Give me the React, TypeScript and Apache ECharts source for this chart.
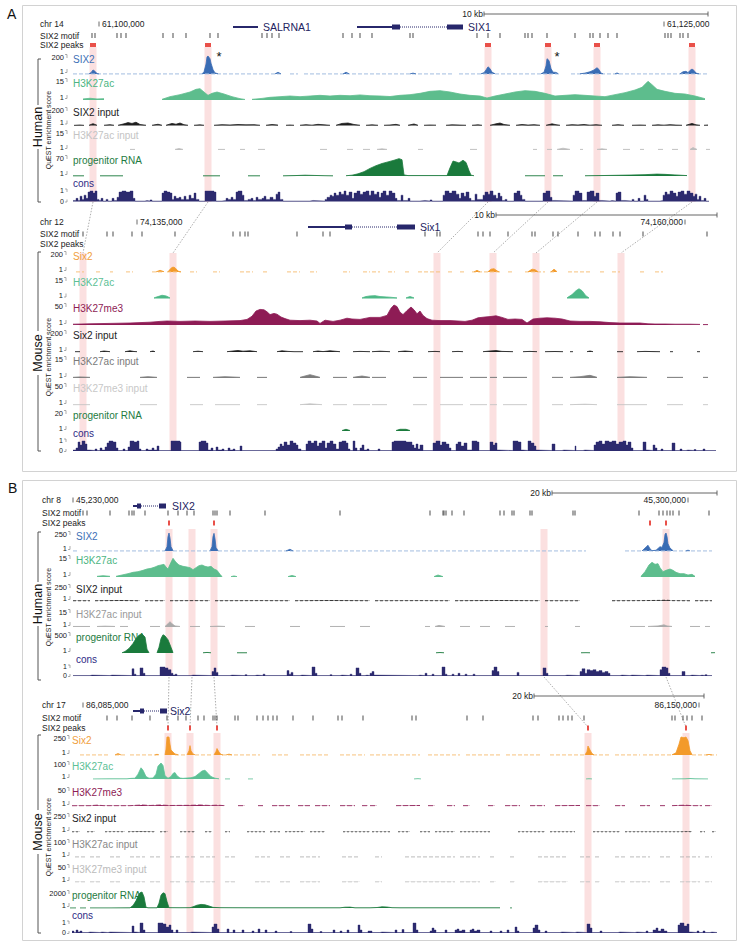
import React, { useEffect, useRef } from 'react';
import * as echarts from 'echarts';

type P = [number, number] | null;

// ================= PANEL A · HUMAN (chr14) =================
const hA_motifs = [92, 95, 117, 121, 126, 163, 173, 186, 210, 218, 262, 267, 272, 279, 343, 352, 360, 372, 410, 413, 477, 488, 500, 525, 528, 532, 547, 575, 590, 593, 600, 608, 617, 665, 668, 671, 680, 683, 688];
const hA_peaks = [93, 208, 488, 548, 597, 692];
const hA_hl = [93, 208, 488, 548, 597, 692];
const hA_coords: [number, string, string][] = [[99, '61,100,000', 'R'], [664, '61,125,000', 'R']];
const hA_scale: [number, number, string] = [484, 708, '10 kb'];
const hA_genes = [[233, 258, 0], [357, 392, 0], [392, 400, 1], [400, 447, 2], [447, 463, 1]];
const hA_geneNames: [number, string][] = [[263, 'SALRNA1'], [468, 'SIX1']];

const hA_six2Base = [[73, 283], [290, 298], [304, 452], [459, 561], [571, 708]];
const hA_six2: P[] = [[89, 1], [91, 15], [93, 45], [95, 30], [97, 5], [99, 1], null, [202, 1], [204, 25], [206, 110], [207, 190], [208, 200], [210, 170], [211, 120], [213, 50], [215, 12], [218, 3], null, [275, 1], [278, 20], [281, 1], null, [343, 1], [346, 20], [349, 3], null, [410, 1], [413, 10], [416, 1], null, [481, 2], [484, 15], [486, 45], [488, 80], [490, 60], [492, 20], [495, 3], null, [541, 2], [544, 20], [546, 90], [547, 170], [549, 150], [551, 60], [553, 20], [556, 18], [558, 5], null, [580, 2], [585, 10], [590, 25], [594, 45], [597, 70], [599, 50], [601, 10], [603, 2], null, [615, 1], [617, 12], [619, 1], null, [680, 2], [683, 25], [686, 30], [688, 15], [690, 40], [692, 55], [694, 40], [696, 10], [699, 2]];
const hA_k27ac: P[] = [[83, 0.8], [90, 1.3], [97, 0.8], [104, 1], null, [162, 0.5], [170, 2.5], [180, 4], [190, 6], [196, 8], [200, 8.5], [204, 6], [208, 3.5], [212, 5], [217, 6], [224, 4.5], [232, 2.5], [240, 1], [245, 0.4], null, [252, 0.5], [262, 1.2], [270, 2], [280, 2.5], [290, 3], [300, 2.5], [310, 3], [320, 3.5], [330, 3], [340, 3.5], [350, 3.2], [360, 3.8], [370, 3.2], [380, 3], [390, 2.6], [400, 3.5], [410, 4], [420, 5], [430, 6.5], [440, 7], [450, 6], [460, 4.5], [470, 3.5], [480, 3], [487, 1.5], [495, 3], [505, 4.5], [515, 6], [525, 7], [535, 6.5], [545, 5], [555, 3], [565, 3.5], [575, 4], [585, 3.5], [595, 3], [605, 2.5], [615, 4], [625, 5.5], [635, 7.5], [642, 9.5], [648, 14], [652, 11.5], [657, 8], [665, 6.5], [675, 5], [685, 4.5], [695, 3], [705, 1]];
const hA_six2in: P[] = [[74, 2], [80, 6], [84, 2], null, [89, 3], [93, 22], [97, 3], null, [104, 3], [110, 10], [114, 3], null, [118, 3], [124, 20], [128, 35], [132, 25], [136, 40], [140, 12], [146, 3], null, [152, 3], [158, 15], [162, 3], null, [166, 3], [172, 25], [176, 15], [180, 30], [184, 10], [188, 3], null, [194, 3], [200, 8], [204, 3], null, [214, 3], [222, 10], [230, 6], [238, 12], [246, 8], [254, 10], [260, 3], null, [266, 3], [272, 12], [278, 5], null, [286, 3], [290, 6], [294, 3], null, [300, 3], [306, 10], [312, 4], [318, 14], [324, 8], [330, 3], null, [336, 3], [342, 25], [348, 30], [354, 12], [360, 3], null, [366, 3], [372, 8], [378, 3], null, [384, 3], [390, 6], [396, 14], [400, 3], null, [408, 3], [414, 18], [418, 3], null, [424, 3], [430, 6], [436, 4], null, [446, 3], [452, 8], [460, 5], [466, 3], null, [472, 3], [478, 8], [482, 3], null, [490, 3], [496, 20], [500, 30], [504, 12], [510, 3], null, [516, 3], [522, 12], [528, 5], [534, 10], [540, 3], null, [546, 3], [552, 20], [556, 10], [560, 3], null, [566, 3], [572, 10], [578, 6], [584, 12], [590, 4], [596, 10], [602, 3], null, [612, 3], [618, 10], [624, 3], null, [632, 3], [640, 6], [646, 3], null, [652, 3], [658, 8], [664, 4], [670, 10], [676, 5], [682, 3], null, [686, 3], [692, 25], [696, 8], [700, 3], null, [704, 3], [708, 6]];
const hA_k27acIn: P[] = [[130, 0.5], [135, 0.5], null, [175, 0.5], [179, 1.2], [183, 0.5], null, [218, 0.5], [225, 0.5], null, [240, 0.5], [245, 0.5], null, [258, 0.5], [265, 0.5], null, [320, 0.5], [327, 0.5], null, [347, 0.5], [353, 0.5], null, [363, 0.5], [370, 0.5], null, [377, 0.5], [382, 1], [387, 0.5], null, [418, 0.5], [423, 0.5], null, [470, 0.5], [477, 0.5], null, [533, 0.5], [537, 0.5], null, [547, 0.5], [552, 0.5], null, [557, 0.5], [563, 1.5], [570, 0.5], null, [580, 0.5], [583, 0.5], null, [597, 0.5], [602, 1], [607, 0.5], null, [623, 0.5], [630, 0.5], null, [640, 0.5], [644, 0.5], null, [658, 0.5], [663, 0.5], null, [672, 0.5], [678, 0.5], null, [690, 0.5], [693, 2], [697, 0.5], null, [706, 0.5], [710, 0.5]];
const hA_rna: P[] = [[73, 0.5], [84, 0.5], null, [100, 0.5], [123, 0.5], null, [203, 0.5], [220, 0.5], null, [248, 0.5], [260, 0.5], null, [283, 0.5], [295, 1.5], [305, 3], [315, 2], [325, 1], [333, 0.5], null, [346, 1], [352, 3], [358, 8], [364, 16], [370, 28], [376, 38], [382, 46], [388, 52], [394, 58], [399, 64], [402, 60], [404, 4], [408, 1.5], [420, 1.5], [435, 1.5], [447, 1.5], [450, 30], [453, 55], [456, 52], [459, 48], [463, 58], [466, 50], [469, 20], [471, 3], [474, 1], null, [525, 0.8], [545, 0.8], null, [553, 0.8], [563, 0.8], null, [585, 0.8], [600, 1.5], [615, 2.5], [630, 3.5], [645, 5], [657, 7], [665, 6], [675, 4], [687, 1.5]];
const hA_cons: P[] = [[73, 0.1], [76, 0.3], [78, 0.1], [80, 0.5], [82, 0.2], [84, 0.6], [86, 0.3], [88, 0.9], [90, 1], [93, 0.8], [95, 1], [97, 0.2], [99, 0.1], [101, 0.3], [103, 0.05], [106, 0.2], [108, 0.05], [112, 0.3], [114, 0.1], [117, 0.4], [119, 0.9], [122, 1], [126, 0.9], [130, 1], [133, 0.3], [135, 0.05], [145, 0.1], [147, 0.05], [150, 0.15], [152, 0.05], [162, 0.8], [164, 1], [167, 0.9], [170, 0.8], [172, 0.2], [174, 0.5], [176, 0.3], [179, 0.4], [181, 0.2], [184, 0.5], [186, 0.2], [189, 0.6], [191, 0.3], [194, 0.8], [196, 0.2], [199, 0.05], [205, 1], [214, 0.9], [216, 0.05], [222, 0.1], [226, 0.3], [228, 0.2], [231, 0.4], [233, 0.2], [236, 0.9], [238, 1], [242, 0.6], [244, 0.1], [248, 0.2], [251, 0.3], [253, 0.1], [256, 0.4], [258, 0.2], [262, 0.3], [264, 0.5], [266, 0.2], [270, 0.4], [273, 0.2], [276, 0.7], [278, 0.9], [280, 0.2], [283, 0.05], [300, 0.05], [310, 0.1], [313, 0.05], [325, 0.2], [327, 0.4], [330, 0.6], [332, 0.5], [334, 0.8], [336, 0.6], [339, 0.9], [341, 0.7], [344, 1], [346, 0.6], [349, 0.9], [352, 0.3], [354, 0.8], [357, 1], [360, 0.7], [363, 0.9], [366, 1], [369, 0.6], [371, 1], [374, 0.7], [377, 0.9], [379, 0.4], [381, 0.8], [383, 1], [386, 0.6], [389, 1], [392, 0.8], [395, 0.3], [397, 0.1], [401, 0.6], [403, 0.1], [408, 0.3], [410, 0.05], [420, 0.1], [425, 0.05], [430, 0.15], [432, 0.05], [443, 0.6], [445, 1], [449, 0.8], [452, 1], [456, 0.7], [459, 0.3], [461, 0.8], [464, 0.5], [466, 0.9], [469, 0.3], [471, 0.1], [475, 0.7], [477, 0.2], [483, 0.6], [485, 0.9], [488, 0.7], [490, 1], [493, 0.6], [496, 0.3], [498, 0.8], [500, 0.5], [502, 0.1], [505, 0.2], [507, 0.05], [514, 0.8], [517, 1], [520, 0.6], [522, 0.2], [525, 0.05], [543, 0.8], [546, 1], [550, 0.4], [552, 0.1], [555, 0.05], [573, 0.6], [575, 1], [579, 0.8], [582, 0.1], [587, 0.9], [590, 1], [594, 0.5], [596, 0.8], [599, 0.1], [602, 0.05], [610, 0.1], [612, 0.05], [616, 0.8], [618, 0.9], [621, 0.1], [625, 0.05], [632, 0.2], [634, 0.05], [638, 0.3], [640, 0.05], [644, 0.6], [646, 0.2], [648, 0.05], [660, 0.1], [663, 0.6], [665, 0.9], [667, 0.7], [670, 1], [673, 0.8], [676, 0.5], [678, 0.9], [681, 1], [684, 0.7], [687, 1], [690, 0.8], [693, 0.5], [695, 0.7], [697, 0.2], [699, 0.5], [701, 0.1], [704, 0.3], [706, 0.05], [709, 0]];

// ================= PANEL A · MOUSE (chr12) =================
const mA_motifs = [83, 107, 113, 132, 142, 175, 233, 240, 245, 248, 297, 323, 330, 425, 437, 440, 478, 483, 490, 508, 532, 535, 553, 558, 578, 595, 600, 613, 620, 643, 707];
const mA_peaks: number[] = [];
const mA_hl = [83, 173, 437, 493, 536, 621];
const mA_coords: [number, string, string][] = [[137, '74,135,000', 'R'], [685, '74,160,000', 'L']];
const mA_scale: [number, number, string] = [496, 717, '10 kb'];
const mA_genes = [[308, 345, 0], [345, 352, 1], [352, 397, 2], [397, 415, 1]];
const mA_geneNames: [number, string][] = [[420, 'Six1']];

const mA_six2Base = [[76, 84], [96, 100], [110, 113], [126, 133], [152, 164], [167, 181], [190, 197], [213, 220], [240, 253], [263, 267], [287, 300], [310, 317], [343, 350], [363, 370], [372, 380], [388, 395], [405, 410], [418, 440], [448, 452], [460, 466], [472, 476], [478, 500], [508, 512], [525, 545], [550, 556], [568, 590], [600, 605], [612, 620], [640, 645], [655, 663]];
const mA_six2: P[] = [[156, 1], [160, 18], [164, 3], null, [168, 2], [171, 40], [173, 52], [175, 45], [178, 10], [181, 1], null, [474, 1], [477, 18], [480, 1], null, [488, 2], [491, 30], [494, 35], [497, 12], [499, 1], null, [528, 2], [532, 30], [535, 25], [538, 3], null, [551, 1], [554, 30], [557, 3]];
const mA_k27ac: P[] = [[154, 0.5], [158, 1.5], [162, 2.5], [166, 2], [170, 0.5], null, [362, 0.5], [366, 1.5], [370, 2], [375, 2.2], [380, 1.5], [390, 1], [397, 0.5], null, [406, 0.5], [410, 1.5], [414, 0.5], null, [567, 0.5], [572, 3], [576, 6], [579, 7.5], [582, 6], [586, 2], [589, 0.5]];
const mA_k27me3: P[] = [[73, 2], [90, 3], [110, 4], [130, 5], [150, 7], [160, 9], [167, 10], [180, 9], [195, 10], [210, 9], [225, 10], [240, 11], [247, 14], [252, 22], [256, 35], [260, 39], [264, 38], [267, 33], [270, 26], [274, 29], [277, 27], [281, 20], [285, 16], [290, 12], [300, 11], [310, 12], [317, 10], [320, 4], [325, 12], [333, 9], [340, 12], [347, 17], [352, 15], [360, 14], [370, 19], [380, 19], [387, 24], [391, 42], [394, 50], [397, 46], [400, 32], [403, 26], [407, 36], [411, 45], [414, 38], [417, 28], [420, 35], [423, 24], [427, 16], [432, 12], [440, 11], [450, 11], [458, 10], [465, 9], [472, 12], [478, 18], [485, 20], [490, 21], [496, 23], [502, 19], [508, 14], [515, 15], [522, 14], [527, 5], [533, 15], [540, 17], [547, 18], [555, 17], [562, 15], [570, 10], [580, 9], [590, 9], [600, 8], [610, 6], [620, 5], [630, 5], [640, 5], [648, 3], [655, 2.5], [665, 2.5], [675, 2], [690, 2], [700, 1.5], null, [703, 1], [708, 1]];
const mA_six2in: P[] = [[75, 3], [80, 3], null, [100, 3], [104, 10], [110, 3], null, [125, 3], [130, 12], [134, 5], [137, 3], null, [150, 3], [153, 10], [155, 3], null, [193, 3], [198, 8], [203, 3], null, [227, 3], [233, 10], [238, 15], [243, 8], [250, 12], [257, 3], null, [277, 3], [282, 12], [288, 6], [294, 3], [303, 3], null, [313, 3], [318, 10], [323, 4], [330, 12], [340, 3], null, [353, 3], [360, 6], [370, 3], null, [372, 3], [380, 8], [390, 3], null, [398, 3], [405, 10], [413, 3], null, [428, 3], [435, 6], [440, 3], null, [452, 3], [458, 6], [463, 3], null, [483, 3], [490, 10], [496, 14], [502, 6], [513, 3], null, [523, 3], [530, 6], [537, 3], null, [545, 3], [555, 5], [563, 3], null, [570, 3], [573, 3], null, [587, 3], [590, 10], [593, 3], null, [617, 3], [623, 3], null, [637, 3], [645, 6], [653, 4], [660, 3], null, [670, 3], [673, 3], null, [697, 3], [700, 3]];
const mA_k27acIn: P[] = [[73, 0.5], [80, 0.8], [90, 0.5], null, [140, 0.5], [148, 1], [157, 0.5], null, [187, 0.5], [200, 0.5], null, [213, 0.5], [225, 1], [240, 0.5], null, [257, 0.5], [267, 0.5], null, [300, 0.5], [310, 2.5], [320, 0.5], null, [333, 0.5], [347, 0.5], null, [353, 0.5], [362, 1.5], [370, 0.5], null, [372, 0.5], [386, 0.5], null, [413, 0.5], [427, 0.5], null, [440, 0.5], [463, 0.5], null, [470, 0.5], [487, 0.5], null, [490, 0.5], [497, 0.5], null, [503, 0.5], [527, 0.5], null, [552, 0.5], [563, 0.5], null, [570, 0.5], [580, 1], [590, 2], [597, 0.5], null, [617, 0.5], [630, 1], [647, 0.5], null, [667, 0.5], [683, 0.5], null, [703, 0.5], [708, 0.5]];
const mA_k27me3In: P[] = [[73, 0.8], [90, 0.8], null, [140, 0.8], [157, 0.8], null, [190, 0.8], [203, 0.8], null, [215, 0.8], [240, 0.8], null, [257, 0.8], [267, 0.8], null, [300, 0.8], [310, 3], [322, 0.8], null, [333, 0.8], [347, 0.8], null, [353, 0.8], [370, 0.8], null, [372, 0.8], [387, 0.8], null, [413, 0.8], [427, 0.8], null, [440, 0.8], [463, 0.8], null, [470, 0.8], [487, 0.8], null, [490, 0.8], [497, 0.8], null, [503, 0.8], [527, 0.8], null, [552, 0.8], [563, 0.8], null, [570, 0.8], [585, 2], [597, 0.8], null, [617, 0.8], [647, 0.8], null, [667, 0.8], [683, 0.8], null, [703, 0.8], [708, 0.8]];
const mA_rna: P[] = [[342, 0.5], [346, 1.8], [350, 0.5], null, [396, 0.5], [400, 1.8], [406, 1.8], [410, 0.5]];
const mA_cons: P[] = [[73, 0.1], [76, 0.3], [78, 0.9], [80, 0.6], [82, 1], [85, 0.7], [87, 0.1], [90, 0.05], [95, 0.2], [97, 0.05], [100, 0.3], [102, 0.1], [105, 0.4], [107, 0.8], [109, 1], [113, 0.9], [116, 0.3], [118, 0.05], [123, 0.2], [125, 0.05], [128, 0.4], [130, 1], [134, 0.9], [137, 1], [139, 0.2], [141, 0.05], [146, 0.2], [148, 0.1], [152, 0.3], [154, 0.1], [157, 0.5], [159, 0.05], [171, 1], [180, 0.9], [181, 0.05], [199, 0.9], [201, 1], [206, 0.8], [208, 0.1], [211, 0.3], [213, 0.05], [216, 0.4], [218, 0.1], [222, 0.2], [224, 0.05], [228, 0.3], [230, 0.1], [233, 0.2], [235, 0.05], [240, 0.5], [242, 0.05], [276, 0.2], [278, 0.4], [280, 0.7], [282, 0.5], [284, 0.9], [287, 0.6], [290, 1], [293, 0.8], [296, 0.6], [298, 0.2], [301, 0.05], [306, 0.7], [308, 1], [311, 0.8], [314, 1], [317, 0.5], [319, 0.8], [322, 1], [325, 0.3], [327, 0.8], [330, 1], [333, 0.7], [336, 0.2], [339, 0.9], [342, 1], [346, 0.8], [348, 0.2], [350, 0.05], [353, 1], [355, 0.3], [357, 0.05], [360, 0.3], [362, 0.6], [364, 0.1], [367, 0.2], [369, 0.05], [378, 0.2], [380, 0.05], [392, 0.9], [394, 1], [406, 0.9], [412, 0.6], [414, 0.3], [416, 0.7], [418, 0.2], [420, 0.6], [423, 0.05], [433, 0.8], [436, 1], [440, 0.6], [442, 0.9], [446, 0.7], [449, 0.3], [451, 0.05], [456, 0.7], [458, 0.9], [461, 0.5], [464, 0.8], [467, 0.1], [472, 1], [477, 0.9], [479, 0.05], [490, 0.9], [493, 0.6], [495, 0.8], [497, 0.1], [499, 0.05], [513, 1], [518, 0.9], [521, 0.1], [523, 0.05], [528, 1], [531, 0.8], [534, 0.5], [536, 0.1], [538, 0.05], [552, 0.7], [555, 0.05], [562, 0.1], [564, 0.05], [575, 0.5], [576, 0.05], [583, 0.1], [585, 0.05], [594, 0.6], [596, 0.9], [599, 1], [602, 0.7], [605, 1], [609, 0.9], [612, 1], [616, 0.7], [619, 0.9], [623, 1], [626, 0.6], [628, 0.9], [631, 0.3], [633, 0.05], [643, 0.9], [646, 0.1], [648, 0.05], [653, 0.6], [655, 0.3], [657, 0.05], [661, 0.2], [663, 0.05], [672, 0.8], [675, 0.05], [680, 0.2], [682, 0.05], [686, 0.1], [688, 0.05], [694, 0.15], [696, 0.05], [703, 0.2], [705, 0.05], [716, 0]];

// ================= PANEL B · HUMAN (chr8) =================
const hB_motifs = [83, 87, 110, 129, 132, 134, 145, 168, 178, 187, 194, 213, 215, 217, 230, 265, 340, 430, 443, 444, 446, 452, 464, 500, 504, 512, 514, 530, 532, 573, 575, 639, 659, 663, 667, 670, 673, 679, 709];
const hB_peaks = [169, 214, 650, 666];
const hB_hl = [169, 192, 214, 544, 666];
const hB_coords: [number, string, string][] = [[73, '45,230,000', 'R'], [688, '45,300,000', 'L']];
const hB_scale: [number, number, string] = [552, 717, '20 kb'];
const hB_genes = [[133, 138, 0], [137, 141, 1], [141, 159, 2], [159, 166, 1]];
const hB_geneNames: [number, string][] = [[172, 'SIX2']];

const hB_six2Base = [[73, 79], [84, 165], [173, 211], [218, 586], [625, 712]];
const hB_six2: P[] = [[165, 1], [167, 60], [168, 200], [169, 250], [170, 180], [171, 60], [173, 5], null, [210, 1], [212, 60], [213, 200], [214, 245], [215, 170], [216, 50], [218, 3], null, [286, 1], [290, 25], [293, 1], null, [642, 1], [645, 40], [648, 80], [650, 30], [652, 5], [656, 10], [660, 60], [662, 50], [664, 120], [665, 230], [666, 250], [667, 200], [668, 100], [670, 40], [673, 5], null, [686, 1], [688, 12], [690, 1]];
const hB_k27ac: P[] = [[97, 0.5], [103, 1], [110, 0.5], null, [116, 0.5], [122, 1.5], [128, 2.5], [133, 3.5], [138, 4], [143, 5], [147, 6], [151, 6.5], [155, 7.5], [158, 8.5], [161, 9], [164, 9.5], [166, 7.5], [168, 6], [171, 11], [173, 14], [176, 11], [179, 9], [183, 8], [187, 7.5], [190, 7], [193, 5.5], [196, 7], [199, 8.5], [202, 9], [205, 8], [208, 7.5], [211, 8], [214, 6], [217, 5], [220, 2], [222, 0.3], null, [231, 0.3], [234, 0.8], [237, 0.3], null, [288, 0.3], [292, 1.2], [296, 0.3], null, [434, 0.3], [438, 1.5], [443, 0.3], null, [641, 0.5], [645, 4], [649, 9], [652, 11], [655, 9.5], [658, 10], [660, 7], [663, 4], [666, 5], [670, 6], [673, 5], [676, 3.5], [680, 2.5], [684, 2.5], [688, 1.5], [692, 2], [695, 0.5]];
const hB_six2in: P[] = [[73, 4], [90, 4], null, [95, 4], [120, 8], [140, 4], null, [145, 4], [165, 4], null, [170, 4], [195, 6], [210, 4], null, [215, 4], [260, 6], [290, 4], null, [295, 4], [330, 8], [370, 4], null, [375, 4], [420, 6], [450, 4], null, [455, 4], [500, 8], [540, 4], null, [545, 4], [580, 4], null, [612, 4], [640, 6], [660, 10], [666, 14], [672, 6], [690, 4], null, [695, 4], [712, 4]];
const hB_k27acIn: P[] = [[73, 0.5], [90, 0.5], null, [97, 0.5], [105, 0.8], [115, 0.5], null, [120, 0.5], [128, 0.5], null, [150, 0.5], [160, 0.5], null, [165, 0.5], [168, 3], [170, 5], [172, 3], [175, 1], [180, 0.5], null, [190, 0.5], [200, 0.5], null, [210, 0.5], [218, 0.8], [225, 0.5], null, [245, 0.5], [255, 0.5], null, [290, 0.5], [300, 0.5], null, [330, 0.5], [345, 0.5], null, [360, 0.5], [370, 0.5], null, [425, 0.5], [430, 0.5], null, [435, 0.5], [439, 1.5], [445, 0.5], null, [460, 0.5], [470, 0.5], null, [480, 0.5], [490, 0.5], null, [505, 0.5], [515, 0.5], null, [545, 0.5], [548, 0.5], null, [575, 0.5], [580, 0.5], null, [630, 0.5], [645, 0.5], null, [648, 0.5], [658, 1], [664, 2], [667, 1], [672, 0.5], null, [690, 0.5], [700, 0.5], null, [705, 0.5], [710, 0.5]];
const hB_rna: P[] = [[122, 5], [125, 40], [129, 120], [133, 250], [136, 380], [139, 470], [142, 500], [145, 420], [147, 100], [149, 5], null, [157, 5], [159, 150], [161, 380], [163, 480], [165, 450], [168, 350], [171, 150], [173, 10], null, [203, 5], [207, 15], [211, 5], null, [237, 5], [247, 5], null, [436, 5], [440, 12], [444, 5], null, [581, 5], [586, 8], [590, 5], null, [711, 5], [715, 8]];
const hB_cons: P[] = [[73, 0.05], [90, 0.1], [92, 0.05], [110, 0.1], [112, 0.05], [132, 0.8], [134, 0.2], [136, 0.05], [140, 0.9], [143, 0.3], [145, 0.05], [160, 1], [165, 0.9], [168, 0.7], [171, 0.3], [173, 0.1], [175, 0.2], [177, 0.05], [191, 0.1], [193, 0.05], [212, 0.5], [214, 0.9], [216, 0.4], [218, 0.05], [230, 0.1], [232, 0.05], [245, 0.15], [247, 0.05], [255, 0.1], [257, 0.05], [263, 0.2], [265, 0.05], [287, 0.6], [289, 0.2], [291, 0.4], [293, 0.05], [300, 0.1], [302, 0.05], [312, 1], [315, 0.3], [317, 0.05], [330, 0.15], [332, 0.05], [340, 0.1], [342, 0.05], [350, 0.2], [352, 0.05], [356, 0.9], [359, 0.3], [361, 0.05], [365, 0.1], [367, 0.05], [370, 0.3], [372, 0.5], [374, 0.1], [376, 0.05], [418, 0.1], [420, 0.05], [425, 0.3], [427, 0.05], [432, 0.2], [434, 0.05], [442, 1], [445, 0.2], [447, 0.05], [452, 0.2], [454, 0.05], [458, 0.3], [460, 0.05], [465, 0.2], [467, 0.05], [473, 0.2], [475, 0.05], [492, 0.6], [494, 1], [497, 0.5], [499, 0.05], [517, 0.4], [519, 0.05], [543, 0.9], [546, 0.3], [548, 0.05], [565, 0.1], [567, 0.05], [580, 0.5], [582, 0.8], [585, 0.3], [587, 0.7], [590, 0.6], [593, 0.7], [596, 0.5], [599, 0.6], [602, 0.4], [605, 0.5], [608, 0.3], [610, 0.05], [620, 0.1], [622, 0.05], [630, 0.1], [632, 0.05], [645, 0.1], [647, 0.05], [660, 0.7], [662, 1], [666, 0.9], [668, 0.3], [670, 0.05], [682, 0.5], [685, 0.05], [690, 0.1], [692, 0.05], [700, 0.1], [702, 0.05], [705, 0.15], [707, 0.05], [712, 0]];

// ================= PANEL B · MOUSE (chr17) =================
const mB_motifs = [107, 117, 132, 150, 167, 178, 186, 198, 204, 213, 215, 217, 235, 238, 257, 263, 268, 273, 277, 293, 313, 338, 342, 363, 412, 416, 467, 483, 533, 538, 559, 563, 568, 572, 584, 672, 675, 683, 687, 692, 702];
const mB_peaks = [168, 190, 217, 588, 686];
const mB_hl = [168, 190, 217, 588, 686];
const mB_coords: [number, string, string][] = [[83, '86,085,000', 'R'], [699, '86,150,000', 'L']];
const mB_scale: [number, number, string] = [534, 704, '20 kb'];
const mB_genes = [[133, 141, 0], [140, 144, 1], [144, 160, 2], [160, 167, 1]];
const mB_geneNames: [number, string][] = [[170, 'Six2']];

const mB_six2Base = [[80, 110], [115, 125], [130, 160], [175, 185], [195, 212], [222, 260], [272, 290], [300, 330], [340, 365], [370, 420], [428, 460], [466, 500], [506, 540], [550, 585], [593, 610], [615, 640], [643, 672], [692, 717]];
const mB_six2: P[] = [[115, 1], [118, 20], [121, 1], null, [155, 1], [157, 10], [159, 1], null, [165, 2], [166, 80], [167, 250], [169, 250], [170, 150], [171, 70], [173, 40], [175, 15], [178, 3], null, [187, 1], [189, 60], [190, 130], [191, 60], [193, 15], [195, 3], null, [214, 1], [216, 50], [217, 90], [219, 40], [221, 8], [223, 1], null, [226, 1], [229, 12], [232, 1], null, [585, 1], [587, 50], [588, 125], [590, 70], [592, 20], [594, 2], null, [672, 2], [676, 30], [679, 150], [681, 250], [684, 240], [686, 250], [688, 200], [690, 60], [692, 5], null, [706, 1], [709, 8], [712, 1]];
const mB_k27ac: P[] = [[93, 0.5], [110, 1], [127, 1], [131, 4], [135, 5], [138, 30], [141, 70], [143, 55], [146, 15], [149, 5], [153, 6], [156, 30], [158, 80], [161, 100], [163, 85], [165, 20], [168, 5], [171, 15], [173, 35], [175, 40], [177, 20], [180, 6], [183, 4], [187, 6], [191, 8], [195, 15], [199, 35], [202, 50], [205, 55], [208, 35], [211, 15], [215, 5], [219, 1], null, [225, 0.5], [230, 0.5], null, [248, 0.5], [253, 0.5], null, [414, 0.5], [418, 2], [421, 0.5], null, [586, 0.5], [589, 1.5], [592, 0.5], null, [672, 0.5], [685, 1], [690, 3], [695, 1], [708, 0.5]];
const mB_k27me3: P[] = [[72, 0.8], [90, 1], [97, 2.5], [104, 1], [130, 1], [142, 3], [150, 1.5], [160, 3], [170, 1.5], [190, 2], [200, 3], [210, 1.5], [217, 2.5], [225, 1], null, [238, 1], [245, 1], null, [258, 1], [263, 1], null, [272, 1], [290, 1], null, [298, 1], [310, 1], null, [315, 1], [330, 1], null, [340, 1], [355, 1], null, [362, 1], [368, 1], null, [370, 1], [377, 1], null, [396, 1], [420, 1.5], null, [428, 1], [435, 1], null, [447, 1], [455, 1], null, [463, 1], [470, 1], null, [488, 1], [495, 1], null, [505, 1], [520, 1], null, [530, 1], [545, 1], null, [555, 1], [580, 1.5], null, [586, 1], [600, 1], null, [615, 1], [625, 1], null, [640, 1], [650, 1], null, [660, 1], [665, 1], null, [672, 1], [685, 2.5], [692, 1], [702, 1], null, [705, 1], [712, 1]];
const mB_six2in: P[] = [[72, 3], [80, 3], null, [87, 3], [95, 3], null, [105, 3], [115, 5], [125, 3], null, [128, 3], [140, 6], [155, 3], null, [160, 3], [168, 3], null, [180, 3], [195, 3], null, [205, 3], [212, 3], null, [225, 3], [230, 3], null, [247, 3], [265, 3], null, [270, 3], [280, 3], null, [285, 3], [300, 5], [305, 3], null, [310, 3], [325, 3], null, [343, 3], [370, 3], null, [372, 3], [390, 3], null, [398, 3], [410, 3], null, [420, 3], [430, 3], null, [435, 3], [455, 3], null, [460, 3], [490, 3], null, [518, 3], [545, 3], null, [550, 3], [575, 3], null, [593, 3], [620, 3], null, [625, 3], [680, 3], [688, 6], [692, 3], null, [700, 3], [705, 3], null, [712, 3], [716, 3]];
const mB_k27acIn: P[] = [[75, 0.6], [85, 0.6], null, [90, 0.6], [100, 0.6], null, [110, 0.6], [120, 0.6], null, [130, 0.6], [145, 0.6], null, [150, 0.6], [160, 0.6], null, [170, 0.6], [180, 0.6], null, [185, 0.6], [195, 0.6], null, [200, 0.6], [215, 0.6], null, [225, 0.6], [235, 0.6], null, [255, 0.6], [270, 0.6], null, [280, 0.6], [290, 0.6], null, [300, 0.6], [320, 0.6], null, [342, 0.6], [360, 0.6], null, [375, 0.6], [382, 0.6], null, [405, 0.6], [455, 0.6], null, [460, 0.6], [480, 0.6], null, [490, 0.6], [496, 0.6], null, [510, 0.6], [515, 0.6], null, [538, 0.6], [568, 0.6], null, [580, 0.6], [590, 0.6], null, [595, 0.6], [600, 0.6], null, [615, 0.6], [625, 0.6], null, [630, 0.6], [650, 0.6], null, [660, 0.6], [670, 0.6], null, [680, 0.6], [700, 0.6], null, [705, 0.6], [712, 0.6]];
const mB_k27me3In: P[] = [[75, 0.4], [85, 0.4], null, [90, 0.4], [100, 0.4], null, [110, 0.4], [120, 0.4], null, [130, 0.4], [145, 0.4], null, [150, 0.4], [160, 0.4], null, [170, 0.4], [180, 0.4], null, [185, 0.4], [195, 0.4], null, [200, 0.4], [215, 0.4], null, [225, 0.4], [235, 0.4], null, [255, 0.4], [270, 0.4], null, [280, 0.4], [290, 0.4], null, [300, 0.4], [320, 0.4], null, [342, 0.4], [360, 0.4], null, [375, 0.4], [382, 0.4], null, [405, 0.4], [455, 0.4], null, [460, 0.4], [480, 0.4], null, [490, 0.4], [496, 0.4], null, [510, 0.4], [515, 0.4], null, [538, 0.4], [568, 0.4], null, [580, 0.4], [590, 0.4], null, [595, 0.4], [600, 0.4], null, [615, 0.4], [625, 0.4], null, [630, 0.4], [650, 0.4], null, [660, 0.4], [670, 0.4], null, [680, 0.4], [700, 0.4], null, [705, 0.4], [712, 0.4]];
const mB_rna: P[] = [[70, 10], [76, 10], null, [80, 10], [86, 10], null, [90, 15], [110, 15], [130, 20], [133, 300], [136, 900], [138, 1500], [140, 1900], [142, 2000], [144, 1400], [146, 100], [148, 20], [157, 25], [159, 600], [161, 1600], [163, 1900], [165, 1800], [167, 800], [169, 40], [180, 30], [190, 40], [193, 150], [197, 350], [201, 450], [205, 400], [209, 250], [213, 80], [220, 40], [233, 30], [260, 20], [300, 20], [340, 20], [345, 100], [350, 110], [355, 20], [370, 20], [377, 60], [382, 150], [387, 120], [392, 40], [400, 20], [450, 20], [500, 20], null, [510, 15], [512, 15]];
const mB_cons: P[] = [[72, 0.2], [74, 0.05], [76, 0.3], [78, 0.1], [80, 0.2], [82, 0.05], [88, 0.1], [90, 0.05], [100, 0.1], [102, 0.05], [108, 0.1], [110, 0.05], [132, 0.7], [134, 0.1], [136, 0.05], [140, 1], [143, 0.3], [145, 0.05], [158, 1], [163, 0.9], [166, 0.6], [169, 0.8], [171, 0.3], [173, 0.05], [176, 0.3], [178, 0.05], [190, 0.1], [192, 0.05], [212, 0.6], [214, 0.9], [217, 0.4], [219, 0.05], [227, 0.4], [229, 0.05], [233, 0.3], [235, 0.05], [242, 0.3], [244, 0.05], [252, 0.2], [254, 0.05], [258, 0.4], [260, 0.05], [265, 0.3], [267, 0.05], [275, 0.2], [277, 0.05], [290, 0.15], [292, 0.05], [308, 0.9], [311, 0.4], [313, 0.05], [320, 0.15], [322, 0.05], [333, 0.3], [335, 0.05], [340, 0.2], [342, 0.05], [347, 0.3], [349, 0.05], [358, 0.8], [360, 0.3], [362, 0.05], [368, 0.2], [372, 0.05], [380, 0.1], [382, 0.05], [395, 0.3], [397, 0.05], [402, 0.35], [404, 0.05], [413, 1], [416, 0.3], [418, 0.05], [430, 0.2], [432, 0.5], [434, 0.3], [436, 0.05], [445, 0.3], [447, 0.05], [455, 0.3], [457, 0.4], [459, 0.2], [462, 0.3], [465, 0.05], [470, 0.3], [472, 0.4], [474, 0.2], [477, 0.3], [480, 0.05], [490, 0.2], [492, 0.05], [500, 0.2], [502, 0.05], [507, 0.3], [509, 0.05], [515, 0.6], [517, 0.2], [519, 0.05], [533, 0.5], [535, 0.8], [538, 0.3], [540, 0.05], [545, 0.2], [547, 0.05], [560, 0.1], [562, 0.05], [575, 0.1], [577, 0.05], [587, 0.9], [590, 0.5], [592, 0.05], [600, 0.2], [602, 0.05], [618, 0.1], [620, 0.05], [635, 0.1], [637, 0.05], [646, 0.2], [648, 0.05], [653, 0.3], [656, 0.5], [658, 0.2], [661, 0.4], [664, 0.2], [667, 0.05], [678, 0.8], [680, 1], [684, 0.7], [687, 0.9], [689, 0.1], [691, 0.05], [697, 0.2], [699, 0.05], [703, 0.2], [705, 0.05], [710, 0.1], [712, 0.05], [717, 0]];

// ================= styling / layout =================
const FONT = 'Arial, "Liberation Sans", Helvetica, sans-serif';
const NAVY = '#27276b';
const C = {
  blue: '#3a6cb4', blueBase: '#a3bde0', green: '#5dbd8d', black: '#1e1e1e',
  rna: '#1a7a3c', cons: '#2c2a6e', orange: '#f39a2b', orangeBase: '#f7c27e', maroon: '#8e1c55',
};

const sections = [
  {
    hdrX: 40, chr: 'chr 14', chrY: 24, motifY: 35.5, peaksY: 45, peakSize: [6, 4], geneY: 27,
    motifs: hA_motifs, peaks: hA_peaks, hl: hA_hl, hlTop: 47, hlBottom: 202,
    species: 'Human', bTop: 59, bBottom: 202, spY: 127, qY: 130,
    coords: hA_coords, scale: hA_scale, scaleY: 14, genes: hA_genes, geneNames: hA_geneNames,
    nameX: 73, tickX: 64,
    tracks: [
      { name: 'SIX2', nc: '#3d6fb6', color: C.blue, ymax: 200, top: 56, base: 74, data: hA_six2, baseSegs: hA_six2Base, baseColor: C.blueBase },
      { name: 'H3K27ac', nc: '#4cb582', color: C.green, ymax: 15, top: 80, base: 100, data: hA_k27ac },
      { name: 'SIX2 input', nc: '#222', color: C.black, ymax: 200, top: 109, base: 125.5, data: hA_six2in },
      { name: 'H3K27ac input', nc: '#c4c4c4', color: '#bdbdbd', ymax: 15, top: 132, base: 150, data: hA_k27acIn },
      { name: 'progenitor RNA', nc: '#1e7b3f', color: C.rna, ymax: 70, top: 157, base: 176, data: hA_rna },
      { name: 'cons', nc: '#2d2a85', color: C.cons, ymax: 1, top: 191, base: 201.5, data: hA_cons, cons: true },
    ],
  },
  {
    hdrX: 40, chr: 'chr 12', chrY: 222, motifY: 234, peaksY: 244, peakSize: [6, 4], geneY: 227,
    motifs: mA_motifs, peaks: mA_peaks, hl: mA_hl, hlTop: 253, hlBottom: 451,
    species: 'Mouse', bTop: 252, bBottom: 451, spY: 353, qY: 357,
    coords: mA_coords, scale: mA_scale, scaleY: 215, genes: mA_genes, geneNames: mA_geneNames,
    nameX: 73, tickX: 63,
    tracks: [
      { name: 'Six2', nc: '#f0a040', color: C.orange, ymax: 200, top: 253, base: 272, data: mA_six2, baseSegs: mA_six2Base, baseColor: C.orangeBase },
      { name: 'H3K27ac', nc: '#5cc095', color: '#4cb886', ymax: 15, top: 279, base: 298.5, data: mA_k27ac },
      { name: 'H3K27me3', nc: '#8e1c55', color: C.maroon, ymax: 50, top: 305, base: 325, data: mA_k27me3 },
      { name: 'Six2 input', nc: '#222', color: C.black, ymax: 200, top: 332, base: 352, data: mA_six2in },
      { name: 'H3K27ac input', nc: '#7a7a7a', color: '#7d7d7d', ymax: 15, top: 358, base: 378, data: mA_k27acIn },
      { name: 'H3K27me3 input', nc: '#c8c8c8', color: '#c4c4c4', ymax: 50, top: 385, base: 405, data: mA_k27me3In },
      { name: 'progenitor RNA', nc: '#1e7b3f', color: C.rna, ymax: 20, top: 412, base: 431, data: mA_rna },
      { name: 'cons', nc: '#2d2a85', color: C.cons, ymax: 1, top: 441, base: 451, data: mA_cons, cons: true },
    ],
  },
  {
    hdrX: 42, chr: 'chr 8', chrY: 500, motifY: 513, peaksY: 523, peakSize: [2, 5], geneY: 506,
    motifs: hB_motifs, peaks: hB_peaks, hl: hB_hl, hlTop: 529, hlBottom: 676,
    species: 'Human', bTop: 532, bBottom: 680, spY: 604, qY: 607,
    coords: hB_coords, scale: hB_scale, scaleY: 493, genes: hB_genes, geneNames: hB_geneNames,
    nameX: 76, tickX: 67,
    tracks: [
      { name: 'SIX2', nc: '#3d6fb6', color: C.blue, ymax: 250, top: 533, base: 551, data: hB_six2, baseSegs: hB_six2Base, baseColor: C.blueBase },
      { name: 'H3K27ac', nc: '#4cb582', color: C.green, ymax: 15, top: 557, base: 577, data: hB_k27ac },
      { name: 'SIX2 input', nc: '#222', color: C.black, ymax: 250, top: 586, base: 601, data: hB_six2in, dash: [3, 2] },
      { name: 'H3K27ac input', nc: '#999', color: '#aaaaaa', ymax: 15, top: 611, base: 627, data: hB_k27acIn },
      { name: 'progenitor RNA', nc: '#1e7b3f', color: C.rna, ymax: 500, top: 634, base: 653, data: hB_rna },
      { name: 'cons', nc: '#2d2a85', color: C.cons, ymax: 1, top: 667, base: 676, data: hB_cons, cons: true },
    ],
  },
  {
    hdrX: 42, chr: 'chr 17', chrY: 705, motifY: 718, peaksY: 728, peakSize: [2, 5], geneY: 711,
    motifs: mB_motifs, peaks: mB_peaks, hl: mB_hl, hlTop: 733, hlBottom: 933,
    species: 'Mouse', bTop: 735, bBottom: 933, spY: 832, qY: 837,
    coords: mB_coords, scale: mB_scale, scaleY: 696, genes: mB_genes, geneNames: mB_geneNames,
    nameX: 72, tickX: 66,
    tracks: [
      { name: 'Six2', nc: '#f0a040', color: C.orange, ymax: 250, top: 737, base: 755, data: mB_six2, baseSegs: mB_six2Base, baseColor: C.orangeBase },
      { name: 'H3K27ac', nc: '#5cc095', color: '#5cc095', ymax: 100, top: 763, base: 779, data: mB_k27ac },
      { name: 'H3K27me3', nc: '#8e1c55', color: C.maroon, ymax: 50, top: 789, base: 806, data: mB_k27me3, dash: [5, 2] },
      { name: 'Six2 input', nc: '#222', color: '#444', ymax: 250, top: 815, base: 832, data: mB_six2in, dash: [2, 2] },
      { name: 'H3K27ac input', nc: '#888', color: '#aaaaaa', ymax: 100, top: 841, base: 857, data: mB_k27acIn, dash: [4, 2] },
      { name: 'H3K27me3 input', nc: '#bbb', color: '#c4c4c4', ymax: 50, top: 866, base: 882, data: mB_k27me3In, dash: [4, 2] },
      { name: 'progenitor RNA', nc: '#1e7b3f', color: C.rna, ymax: 2000, top: 892, base: 908, data: mB_rna },
      { name: 'cons', nc: '#2d2a85', color: C.cons, ymax: 1, top: 923, base: 933, data: mB_cons, cons: true },
    ],
  },
];

const connectorPairs = [
  { from: hA_hl, to: mA_hl, y1: 202, y2: 253 },
  { from: hB_hl, to: mB_hl, y1: 677, y2: 727 },
];

function toData(d: P[]) {
  return d.map((p) => (p === null ? ['-', '-'] : p));
}

function txt(x: number, y: number, text: string, size: number, color: string, align = 'left', extra: any = {}) {
  return {
    type: 'text', x, y, z: 100, silent: true, ...extra,
    style: { text, fill: color, fontSize: size, fontFamily: FONT, align, verticalAlign: 'middle' },
  };
}

function buildOption() {
  const grid: any[] = [{ left: 0, right: 0, top: 0, bottom: 0 }];
  const xAxis: any[] = [{ type: 'value', min: 0, max: 740, show: false, gridIndex: 0 }];
  const yAxis: any[] = [{ type: 'value', min: 0, max: 944, inverse: true, show: false, gridIndex: 0 }];
  const series: any[] = [];
  const graphic: any[] = [];

  graphic.push({ type: 'rect', shape: { x: 22.5, y: 5.5, width: 714, height: 466 }, style: { fill: 'none', stroke: '#d2d2d2', lineWidth: 1 }, silent: true });
  graphic.push({ type: 'rect', shape: { x: 22.5, y: 480.5, width: 714, height: 460 }, style: { fill: 'none', stroke: '#d2d2d2', lineWidth: 1 }, silent: true });
  graphic.push(txt(7, 14, 'A', 14, '#111'));
  graphic.push(txt(8, 488, 'B', 14, '#111'));
  graphic.push(txt(219, 56, '*', 13, '#111', 'center'));
  graphic.push(txt(557, 56, '*', 13, '#111', 'center'));

  const pinkData: any[] = [];
  const motifData: any[] = [];
  const peakSeries: any[] = [];
  const geneData: any[] = [];
  const coordItems: any[] = [];
  const scaleItems: any[] = [];

  sections.forEach((s) => {
    graphic.push(txt(s.hdrX, s.chrY, s.chr, 8.5, '#222'));
    graphic.push(txt(s.hdrX, s.motifY, 'SIX2 motif', 8.5, '#222'));
    graphic.push(txt(s.hdrX, s.peaksY, 'SIX2 peaks', 8.5, '#222'));
    s.geneNames.forEach(([x, n]) => graphic.push(txt(x, s.geneY, n, 10.5, '#23235f')));
    s.hl.forEach((x) => pinkData.push([x, s.hlTop, s.hlBottom]));
    s.motifs.forEach((x) => motifData.push([x, s.motifY]));
    peakSeries.push({
      type: 'scatter', xAxisIndex: 0, yAxisIndex: 0, silent: true, z: 4, symbol: 'rect', symbolSize: s.peakSize,
      itemStyle: { color: '#e3241c' }, data: s.peaks.map((x) => [x, s.peaksY]),
    });
    s.genes.forEach((g) => geneData.push([g[0], g[1], g[2], s.geneY]));
    s.coords.forEach((c) => coordItems.push({ x: c[0], y: s.chrY, text: c[1], side: c[2] }));
    scaleItems.push({ x0: s.scale[0], x1: s.scale[1], y: s.scaleY, text: s.scale[2] });

    const half = 19;
    graphic.push({ type: 'polyline', silent: true, shape: { points: [[41, s.bTop], [38, s.bTop], [38, s.spY - half - 3]] }, style: { stroke: '#555', lineWidth: 1, fill: 'none' } });
    graphic.push({ type: 'polyline', silent: true, shape: { points: [[38, s.spY + half + 3], [38, s.bBottom], [41, s.bBottom]] }, style: { stroke: '#555', lineWidth: 1, fill: 'none' } });
    graphic.push(txt(37.5, s.spY, s.species, 12.5, '#111', 'center', { rotation: Math.PI / 2 }));
    graphic.push(txt(48, s.qY, 'QuEST enrichment score', 7, '#222', 'center', { rotation: Math.PI / 2 }));

    s.tracks.forEach((t: any) => {
      const gi = grid.length;
      grid.push({ left: 0, right: 0, top: t.top, height: t.base - t.top });
      xAxis.push({ type: 'value', min: 0, max: 740, show: false, gridIndex: gi });
      yAxis.push({ type: 'value', min: 0, max: t.ymax, show: false, gridIndex: gi });
      if (t.baseSegs) {
        const bd: any[] = [];
        t.baseSegs.forEach(([a, b]: number[]) => { bd.push([a, 1], [b, 1], ['-', '-']); });
        series.push({
          type: 'line', xAxisIndex: gi, yAxisIndex: gi, data: bd, symbol: 'none', silent: true, clip: false, z: 3,
          lineStyle: { color: t.baseColor, width: 1, type: [4, 2] },
        });
      }
      series.push({
        type: 'line', xAxisIndex: gi, yAxisIndex: gi, data: toData(t.data), symbol: 'none', silent: true, clip: false, z: 3,
        step: t.cons ? 'end' : false,
        lineStyle: { color: t.color, width: t.cons ? 0.4 : 0.8, type: t.dash || 'solid' },
        areaStyle: { color: t.color, opacity: 1 },
      });
      const tx = s.tickX;
      if (t.cons) {
        graphic.push(txt(s.nameX, t.top - 8, t.name, 10, t.nc));
        graphic.push(txt(tx, t.top - 0.5, '1', 7, '#222', 'right'));
        graphic.push(txt(tx, t.base - 0.5, '0', 7, '#222', 'right'));
        graphic.push({ type: 'polyline', silent: true, shape: { points: [[tx + 1, t.top - 2], [tx + 3, t.top - 2], [tx + 3, t.top + 1]] }, style: { stroke: '#777', lineWidth: 0.6, fill: 'none' } });
        graphic.push({ type: 'polyline', silent: true, shape: { points: [[tx + 3, t.base - 2], [tx + 3, t.base + 0.5], [tx + 1, t.base + 0.5]] }, style: { stroke: '#777', lineWidth: 0.6, fill: 'none' } });
      } else {
        graphic.push(txt(s.nameX, t.top + 3, t.name, 10, t.nc));
        graphic.push(txt(tx, t.top + 1, String(t.ymax), 7.5, '#222', 'right'));
        graphic.push(txt(tx, t.base - 3, '1', 7.5, '#222', 'right'));
        graphic.push({ type: 'polyline', silent: true, shape: { points: [[tx + 1, t.top - 1.5], [tx + 3, t.top - 1.5], [tx + 3, t.top + 2]] }, style: { stroke: '#777', lineWidth: 0.6, fill: 'none' } });
        graphic.push({ type: 'polyline', silent: true, shape: { points: [[tx + 3, t.base - 5], [tx + 3, t.base - 1.5], [tx + 1, t.base - 1.5]] }, style: { stroke: '#777', lineWidth: 0.6, fill: 'none' } });
      }
    });
  });

  const connData: any[] = [];
  connectorPairs.forEach((c) => c.from.forEach((x, i) => connData.push([x, c.y1, c.to[i], c.y2])));

  series.push({
    type: 'custom', xAxisIndex: 0, yAxisIndex: 0, silent: true, z: 1, clip: false, data: pinkData,
    renderItem: (p: any, api: any) => {
      const x = api.value(0);
      const a = api.coord([x - 3.5, api.value(1)]);
      const b = api.coord([x + 3.5, api.value(2)]);
      return { type: 'rect', shape: { x: a[0], y: a[1], width: b[0] - a[0], height: b[1] - a[1] }, style: { fill: '#fbe0e0' } };
    },
  });
  series.push({
    type: 'custom', xAxisIndex: 0, yAxisIndex: 0, silent: true, z: 2, clip: false, data: connData,
    renderItem: (p: any, api: any) => {
      const a = api.coord([api.value(0), api.value(1)]);
      const b = api.coord([api.value(2), api.value(3)]);
      return { type: 'line', shape: { x1: a[0], y1: a[1], x2: b[0], y2: b[1] }, style: { stroke: '#8a8a8a', lineWidth: 0.7, lineDash: [1.5, 1.5] } };
    },
  });
  series.push({
    type: 'scatter', xAxisIndex: 0, yAxisIndex: 0, silent: true, z: 4, symbol: 'rect', symbolSize: [1.1, 5],
    itemStyle: { color: '#333' }, data: motifData,
  });
  peakSeries.forEach((ps) => series.push(ps));
  series.push({
    type: 'custom', xAxisIndex: 0, yAxisIndex: 0, silent: true, z: 4, clip: false, data: geneData,
    renderItem: (p: any, api: any) => {
      const a = api.coord([api.value(0), api.value(3)]);
      const b = api.coord([api.value(1), api.value(3)]);
      const kind = api.value(2);
      if (kind === 1) return { type: 'rect', shape: { x: a[0], y: a[1] - 2.5, width: b[0] - a[0], height: 5 }, style: { fill: NAVY } };
      if (kind === 0) return { type: 'rect', shape: { x: a[0], y: a[1] - 1, width: b[0] - a[0], height: 2 }, style: { fill: NAVY } };
      return { type: 'line', shape: { x1: a[0], y1: a[1], x2: b[0], y2: b[1] }, style: { stroke: NAVY, lineWidth: 1, lineDash: [1, 1] } };
    },
  });
  series.push({
    type: 'custom', xAxisIndex: 0, yAxisIndex: 0, silent: true, z: 4, clip: false,
    data: coordItems.map((c) => [c.x, c.y]),
    renderItem: (p: any, api: any) => {
      const it = coordItems[p.dataIndex];
      const a = api.coord([api.value(0), api.value(1)]);
      const right = it.side === 'R';
      return {
        type: 'group', children: [
          { type: 'line', shape: { x1: a[0], y1: a[1] - 2.5, x2: a[0], y2: a[1] + 2.5 }, style: { stroke: '#444', lineWidth: 0.8 } },
          { type: 'text', x: right ? a[0] + 3 : a[0] - 2, y: a[1], style: { text: it.text, fill: '#222', fontSize: 8.5, fontFamily: FONT, align: right ? 'left' : 'right', verticalAlign: 'middle' } },
        ],
      };
    },
  });
  series.push({
    type: 'custom', xAxisIndex: 0, yAxisIndex: 0, silent: true, z: 4, clip: false,
    data: scaleItems.map((c) => [c.x0, c.x1, c.y]),
    renderItem: (p: any, api: any) => {
      const it = scaleItems[p.dataIndex];
      const a = api.coord([api.value(0), api.value(2)]);
      const b = api.coord([api.value(1), api.value(2)]);
      return {
        type: 'group', children: [
          { type: 'line', shape: { x1: a[0], y1: a[1], x2: b[0], y2: b[1] }, style: { stroke: '#555', lineWidth: 0.9 } },
          { type: 'line', shape: { x1: a[0], y1: a[1] - 2.5, x2: a[0], y2: a[1] + 2.5 }, style: { stroke: '#555', lineWidth: 0.9 } },
          { type: 'line', shape: { x1: b[0], y1: b[1] - 2.5, x2: b[0], y2: b[1] + 2.5 }, style: { stroke: '#555', lineWidth: 0.9 } },
          { type: 'text', x: a[0] - 1, y: a[1], style: { text: it.text, fill: '#222', fontSize: 8.5, fontFamily: FONT, align: 'right', verticalAlign: 'middle' } },
        ],
      };
    },
  });

  return { animation: false, backgroundColor: '#ffffff', grid, xAxis, yAxis, series, graphic };
}

export default function App() {
  const ref = useRef<HTMLDivElement>(null);
  useEffect(() => {
    document.body.style.margin = '0';
    const chart = echarts.init(ref.current as HTMLDivElement, null, { renderer: 'svg' });
    chart.setOption(buildOption() as any);
    return () => chart.dispose();
  }, []);
  return <div ref={ref} style={{ width: 740, height: 944, background: '#fff' }} />;
}
